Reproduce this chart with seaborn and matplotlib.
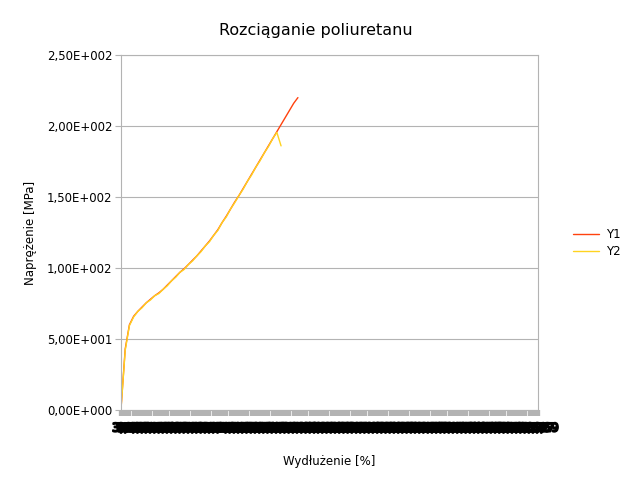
import seaborn as sns
import pandas as pd
import matplotlib.pyplot as plt
import matplotlib.patheffects as pe

naprezenie_y1 = [1, 43, 60, 66, 69.5, 72.5, 75.5, 78, 80.5, 82.5,
                 85, 88, 91, 94, 97, 99.5, 102.5, 105.5, 108.5, 112,
                 115.5, 119, 123, 127, 132, 136.5, 141.5, 146.5, 151, 156,
                 161, 166, 171, 176, 181, 186, 191, 196, 201, 206,
                 211, 216, 220]
naprezenie_y2 = [0.5, 42, 59.5, 65.5, 69.5, 72, 75.5, 77.5, 80.5, 82,
                 85, 87.5, 91, 93.5, 97, 99, 102.5, 105, 108.5, 111.5,
                 115.5, 118.5, 123, 126.5, 132, 136, 141.5, 146, 151, 155.5,
                 161, 165.5, 171, 175.5, 181, 185.5, 191, 195.5, 186]

wydluzenie = [0, 3.19, 7.42, 11.6, 15.81, 20.05, 24.22, 28.47, 32.63, 36.88,
              41.06, 45.29, 49.48, 53.7, 57.91, 62.14, 66.33, 70.57, 74.76, 78.98,
              83.19, 87.41, 91.62, 95.85, 100.04, 104.27, 108.49, 112.7, 116.92, 121.13,
              125.35, 129.56, 133.78, 137.99, 142.21, 146.42, 150.64, 154.86, 159.07, 163.29,
              167.5, 171.72, 175.93, 180.15, 184.36, 188.58, 192.79, 197.01, 201.22, 205.44,
              209.65, 213.87, 218.08, 222.3, 226.51, 230.73, 234.94, 239.16, 243.37, 247.59,
              251.8, 256.02, 260.23, 264.45, 268.66, 272.88, 277.09, 281.31, 285.52, 289.74,
              293.95, 298.17, 302.38, 306.6, 310.81, 315.03, 319.24, 323.46, 327.67, 331.89,
              336.1, 340.32, 344.53, 348.75, 352.96, 357.18, 361.39, 365.61, 369.82, 374.04,
              378.25, 382.47, 386.68, 390.9, 395.11, 399.33, 403.54, 407.76, 411.97, 416.59]
etykiety_x = ['0'] + [('%.2f' % v).replace('.', ',') for v in wydluzenie[1:]]

df = pd.concat([
    pd.DataFrame({'kat': range(len(naprezenie_y1)), 'wartosc': naprezenie_y1, 'seria': 'Y1'}),
    pd.DataFrame({'kat': range(len(naprezenie_y2)), 'wartosc': naprezenie_y2, 'seria': 'Y2'}),
])

sns.set_style('white')
plt.rcParams['font.family'] = ['DejaVu Sans']
plt.rcParams['text.color'] = 'black'
plt.rcParams['axes.labelcolor'] = 'black'
plt.rcParams['xtick.color'] = 'black'
plt.rcParams['ytick.color'] = 'black'

fig = plt.figure(figsize=(6.31, 4.86), dpi=100)
ax = fig.add_axes([121 / 631, 1 - 410 / 486, 417 / 631, 355 / 486])

sns.lineplot(data=df, x='kat', y='wartosc', hue='seria',
             palette={'Y1': '#ff420e', 'Y2': '#ffd320'}, linewidth=1, ax=ax)

ax.set_xlim(0, len(wydluzenie) - 1)
ax.set_ylim(0, 250)
ax.set_yticks([0, 50, 100, 150, 200, 250])
ax.set_yticklabels(['0,00E+000', '5,00E+001', '1,00E+002', '1,50E+002', '2,00E+002', '2,50E+002'],
                   fontsize=8.5, color='black')
ax.set_xticks(range(len(wydluzenie)))
ax.set_xticklabels(etykiety_x, fontsize=8.5, color='black')
# gęste etykiety zlewają się w czarny pas
for t in ax.get_xticklabels():
    t.set_path_effects([pe.withStroke(linewidth=1.4, foreground='black')])
ax.tick_params(axis='x', bottom=True, length=4.3, width=3.1, color='#b3b3b3', pad=4)
ax.tick_params(axis='y', left=True, length=4.3, width=0.8, color='#b3b3b3', pad=2)
ax.grid(True, axis='y', color='#b3b3b3', linewidth=0.8)
for s in ax.spines.values():
    s.set_color('#b3b3b3')
    s.set_linewidth(0.8)

ax.set_xlabel('Wydłużenie [%]', fontsize=8.5, labelpad=15, color='black')
ax.set_ylabel('Naprężenie [MPa]', fontsize=8.5, labelpad=7, color='black')
fig.text(316 / 631, 1 - 30 / 486, 'Rozciąganie poliuretanu', fontsize=11.5,
         ha='center', va='center', color='black')

ax.legend(title=None, frameon=False, fontsize=8.5, loc='center left',
          bbox_to_anchor=(568 / 631, 1 - 243 / 486), bbox_transform=fig.transFigure,
          handlelength=2.2, handletextpad=0.6, labelspacing=0.4, borderaxespad=0)

plt.savefig('out.png', dpi=100)
